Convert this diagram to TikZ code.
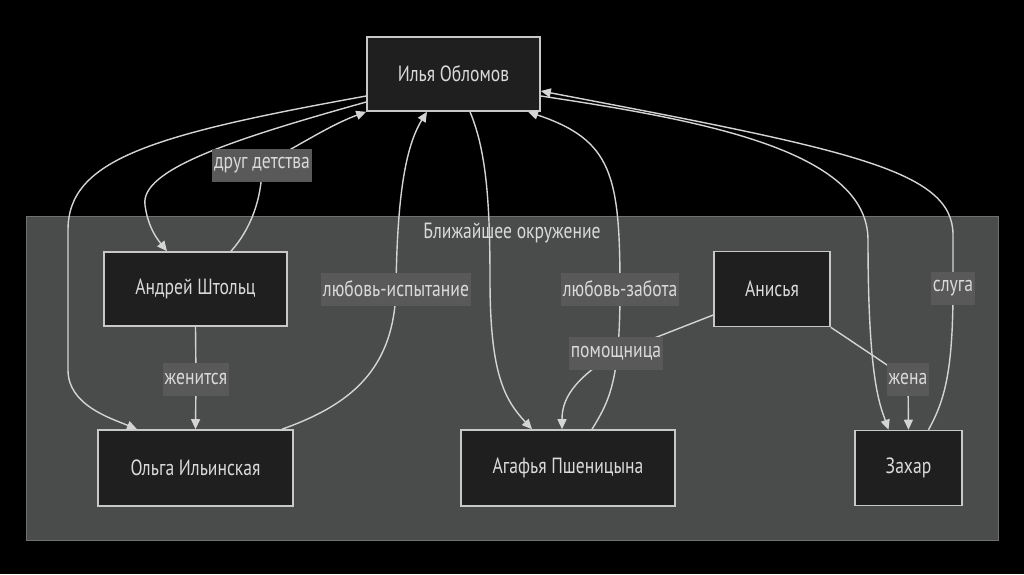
\documentclass[tikz,border=0pt]{standalone}
\usepackage{fontspec}
\setmainfont{PT Sans}[FakeStretch=0.8]
\usetikzlibrary{arrows.meta,positioning}
\definecolor{clfill}{HTML}{4A4C4C}
\definecolor{clline}{HTML}{707070}
\definecolor{nodefill}{HTML}{1F1F1F}
\definecolor{nodeline}{HTML}{C8C8C8}
\definecolor{edgecol}{HTML}{D4D4D4}
\definecolor{lblfill}{HTML}{595959}
\definecolor{txt}{HTML}{DADADA}

\begin{document}
\begin{tikzpicture}[x=1pt,y=-1pt,font=\fontsize{22}{26}\selectfont,
  box/.style={draw=nodeline,line width=1.6pt,fill=nodefill,text=txt,inner sep=0pt},
  lbl/.style={fill=lblfill,text=txt,inner xsep=2pt,inner ysep=0pt,minimum height=33pt},
  edge/.style={draw=edgecol,line width=1.4pt,-{Triangle[length=10pt,width=9pt]}}]
  \fill[black] (0,0) rectangle (1024,574);
  % cluster
  \node[draw=clline,line width=0.8pt,fill=clfill,minimum width=972pt,minimum height=324pt] (near) at (512,378) {};
  \node[text=txt] (neartitle) at (512,233) {Ближайшее окружение};
  % persons
  \foreach \name/\x/\y/\w/\h/\txt in {oblomov/453.5/74/173/74/Илья Обломов,
      shtolz/195.5/289/183/74/Андрей Штольц,olga/195.5/468/195/76/Ольга Ильинская,
      agafya/568/468/214/76/Агафья Пшеницына,anisya/772/289/116/75/Анисья,zakhar/908.5/468/107/75/Захар}
    \node[box,minimum width=\w pt,minimum height=\h pt] (\name) at (\x,\y) {\txt};
  % Oblomov's relations
  \draw[edge] ([yshift=-28pt]oblomov.west) .. controls (230,140) and (140,170) .. (145,205)
    .. controls (148,228) and (158,240) .. ([xshift=-28.5pt]shtolz.north);
  \draw[edge] ([yshift=-22pt]oblomov.west) .. controls (150,135) and (68,160) .. (68,230) -- (68,370)
    .. controls (68,405) and (110,418) .. ([xshift=-58.5pt]olga.north);
  \draw[edge] ([xshift=35.5pt]shtolz.north) .. controls (250,230) and (262,200) .. (262,165) node[lbl] (drug) {друг детства}
    .. controls (300,145) and (330,125) .. (oblomov.south west);
  \draw[edge] (shtolz.south) -- (196,379) node[lbl] (zhenitsya) {женится} -- (olga.north);
  \draw[edge] ([xshift=86.5pt]olga.north) .. controls (350,405) and (394,370) .. (396,289) node[lbl] (ispyt) {любовь-испытание}
    .. controls (397,210) and (403,150) .. ([xshift=-26.5pt]oblomov.south);
  \draw[edge] ([xshift=16.5pt]oblomov.south) .. controls (486,150) and (490,200) .. (490,280)
    .. controls (490,375) and (505,400) .. ([xshift=-36pt]agafya.north);
  \draw[edge] ([xshift=24pt]agafya.north) .. controls (610,400) and (620,380) .. (620,289) node[lbl] (zabota) {любовь-забота}
    .. controls (620,175) and (612,140) .. ([xshift=74.5pt]oblomov.south);
  \draw[edge] ([yshift=-26pt]anisya.west) -- (616,353) node[lbl] (pomosh) {помощница}
    .. controls (572,380) and (562,400) .. ([xshift=-6pt]agafya.north);
  \draw[edge] ([yshift=-22pt]oblomov.east) .. controls (700,120) and (868,150) .. (868,240)
    .. controls (868,380) and (880,405) .. ([xshift=-20pt]zakhar.north);
  \draw[edge] (anisya.south east) -- (908,379) node[lbl] (zhena) {жена} -- (zakhar.north);
  \draw[edge] ([xshift=20pt]zakhar.north) .. controls (945,400) and (953,370) .. (953,288) node[lbl] (sluga) {слуга}
    -- (953,235) .. controls (953,170) and (850,150) .. ([yshift=-17pt]oblomov.east);
\end{tikzpicture}
\end{document}
